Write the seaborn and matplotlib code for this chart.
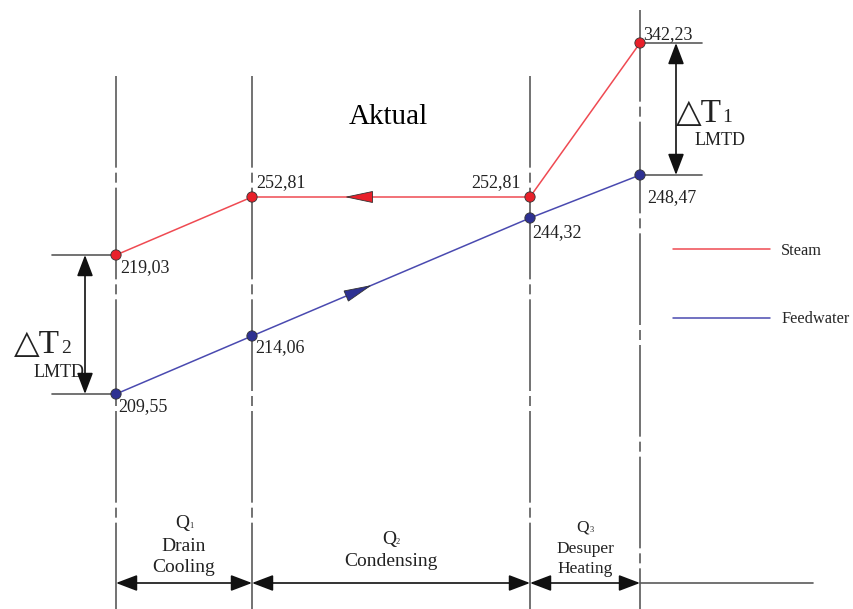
"""
Profil temperatur feedwater heater (Aktual) - diagram skematik
"""

import numpy as np
import pandas as pd
import matplotlib
matplotlib.use("Agg")
import matplotlib.pyplot as plt
from matplotlib.patches import FancyArrowPatch, Polygon
import seaborn as sns

sns.set_theme(style="white")
plt.rcParams['font.family'] = ['Liberation Serif', 'DejaVu Sans']

# data: batas zona (posisi skematik) dan temperatur
section_edges = [116, 252, 530, 640]
steam_temp = [219.03, 252.81, 252.81, 342.23]
feed_temp = [209.55, 214.06, 244.32, 248.47]
# ketinggian titik pada diagram skematik (dibaca dari gambar, y ke bawah)
steam_level = [255, 197, 197, 43]
feed_level = [394, 336, 218, 175]
# posisi label angka relatif ke titik (dx, dy, ha)
steam_label_off = [(4, 13, 'left'), (4, -14, 'left'), (-9, -14, 'right'), (3, -8, 'left')]
feed_label_off = [(2, 13, 'left'), (3, 12, 'left'), (2, 15, 'left'), (7, 23, 'left')]
zone_q = ["1", "2", "3"]
zone_names = ["Drain\nCooling", "Condensing", "Desuper\nHeating"]

STEAM_LINE = '#ef4a52'
STEAM_DOT = '#e8202a'
FEED_LINE = '#4a4ab0'
FEED_DOT = '#2e3192'
GRID = '#5a5a5a'
TXT = '#222222'

df = pd.DataFrame({
    'x': section_edges * 2,
    'y': steam_level + feed_level,
    'stream': ['Steam'] * 4 + ['Feedwater'] * 4,
})

fig = plt.figure(figsize=(8.54, 6.09), dpi=100)
ax = fig.add_axes([0, 0, 1, 1])
ax.set_xlim(0, 854)
ax.set_ylim(609, 0)
ax.axis('off')

# garis vertikal batas zona (dash-dot)
for i, x in enumerate(section_edges):
    top = 10 if i == len(section_edges) - 1 else 76
    ax.plot([x, x], [top, 609], color=GRID, lw=1.2,
            linestyle=(0, (55, 3, 6, 3)), zorder=1)

# garis steam dan feedwater
sns.lineplot(data=df, x='x', y='y', hue='stream', sort=False, estimator=None,
             palette={'Steam': STEAM_LINE, 'Feedwater': FEED_LINE},
             lw=1.1, ax=ax, zorder=3)
sns.scatterplot(data=df, x='x', y='y', hue='stream',
                palette={'Steam': STEAM_DOT, 'Feedwater': FEED_DOT},
                s=55, edgecolor='#333333', linewidth=0.6, ax=ax, zorder=5,
                legend=False)

handles, labels = ax.get_legend_handles_labels()
if ax.get_legend():
    ax.get_legend().remove()
ax.legend(handles[:2], labels[:2], loc='upper left',
          bbox_to_anchor=(673, 243), bbox_transform=ax.transData,
          frameon=False, handlelength=5.9, handletextpad=0.7,
          labelspacing=3.2, fontsize=11.8, borderpad=0, borderaxespad=0)


def mid_arrow(xs, ys, t, color):
    p0 = np.array([xs[0], ys[0]], float)
    p1 = np.array([xs[1], ys[1]], float)
    d = (p1 - p0) / np.linalg.norm(p1 - p0)
    n = np.array([-d[1], d[0]])
    tip = p0 + (p1 - p0) * t
    base = tip - d * 26
    tri = Polygon([tip, base + n * 5.5, base - n * 5.5], closed=True,
                  facecolor=color, edgecolor='#333333', lw=0.6, zorder=6)
    ax.add_patch(tri)


# panah arah aliran
mid_arrow([section_edges[2], section_edges[1]], [steam_level[2], steam_level[1]], 0.66, STEAM_DOT)
mid_arrow([section_edges[1], section_edges[2]], [feed_level[1], feed_level[2]], 0.425, FEED_DOT)

# label temperatur
for x, y, v, (dx, dy, ha) in zip(section_edges, steam_level, steam_temp, steam_label_off):
    ax.text(x + dx, y + dy, f"{v:.2f}".replace('.', ','), fontsize=13,
            ha=ha, va='center', color=TXT, zorder=7)
for x, y, v, (dx, dy, ha) in zip(section_edges, feed_level, feed_temp, feed_label_off):
    ax.text(x + dx, y + dy, f"{v:.2f}".replace('.', ','), fontsize=13,
            ha=ha, va='center', color=TXT, zorder=7)

ax.text(388, 117, "Aktual", fontsize=21, ha='center', va='center', color='black')

# garis bantu horizontal dan panah dimensi delta T
arrow_kw = dict(arrowstyle='<|-|>,head_length=1.0,head_width=0.38',
                mutation_scale=13, color='#111111', lw=1.2,
                shrinkA=0, shrinkB=0, zorder=4)
for y in (steam_level[0], feed_level[0]):
    ax.plot([52, section_edges[0]], [y, y], color=GRID, lw=1.2, zorder=2)
for y in (steam_level[3], feed_level[3]):
    ax.plot([section_edges[3], 702], [y, y], color=GRID, lw=1.2, zorder=2)
ax.add_patch(FancyArrowPatch((85, steam_level[0]), (85, feed_level[0]), **arrow_kw))
ax.add_patch(FancyArrowPatch((676, steam_level[3]), (676, feed_level[3]), **arrow_kw))

ax.text(14, 353, "△T", fontsize=24, ha='left', va='baseline', color=TXT)
ax.text(61, 353, "2", fontsize=14, ha='left', va='baseline', color=TXT)
ax.text(59, 377, "LMTD", fontsize=13, ha='center', va='baseline', color=TXT)
ax.text(676, 122, "△T", fontsize=24, ha='left', va='baseline', color=TXT)
ax.text(722, 122, "1", fontsize=14, ha='left', va='baseline', color=TXT)
ax.text(720, 145, "LMTD", fontsize=13, ha='center', va='baseline', color=TXT)

# panah zona Q1, Q2, Q3 di bawah
for a, b in zip(section_edges[:-1], section_edges[1:]):
    ax.add_patch(FancyArrowPatch((a, 583), (b, 583), **arrow_kw))
ax.plot([section_edges[-1], 813], [583, 583], color=GRID, lw=1.2, zorder=2)

q_base = [528, 544, 532]
name_y = [557, 561, 559]
name_size = [14, 14, 12.5]
for a, b, q, name, qb, ny, fs in zip(section_edges[:-1], section_edges[1:], zone_q,
                                     zone_names, q_base, name_y, name_size):
    cx = (a + b) / 2
    ax.text(cx - 2, qb, "Q", fontsize=fs, ha='center', va='baseline', color=TXT)
    ax.text(cx + 5, qb, q, fontsize=6, ha='left', va='baseline', color=TXT)
    ax.text(cx, ny, name, fontsize=fs, ha='center', va='center',
            linespacing=1.3, color=TXT)

plt.savefig('out.png', dpi=100)
